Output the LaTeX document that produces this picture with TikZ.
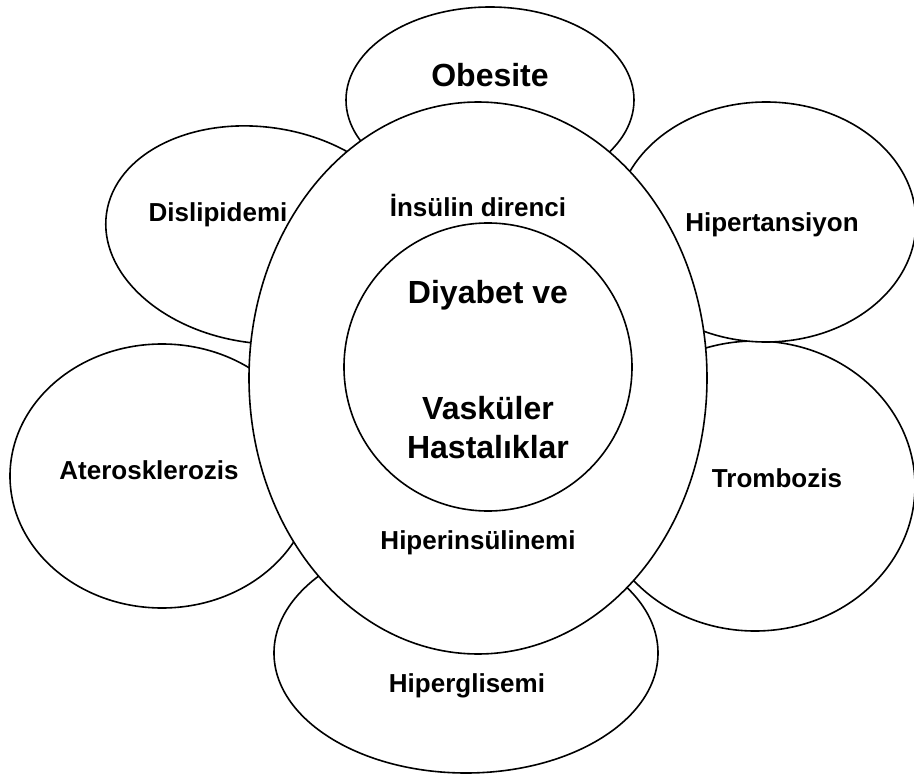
\documentclass[tikz,border=0pt]{standalone}
\usepackage{fontspec}
\setmainfont{Liberation Sans}
\begin{document}
\begin{tikzpicture}[x=1pt,y=-1pt,
  petal/.style={draw=black,fill=white,line width=1.6pt},
  lbl/.style={font=\fontsize{26}{30}\selectfont\bfseries,inner sep=0pt,anchor=center},
  biglbl/.style={font=\fontsize{32}{39}\selectfont\bfseries,inner sep=0pt,anchor=center,align=center}]
\clip (0,0) rectangle (914,776);
\fill[white] (0,0) rectangle (914,776);
% petals
\path[petal] (466,653) ellipse [x radius=192pt,y radius=120pt];
\path[petal] (162,476) ellipse [x radius=152pt,y radius=132pt];
\path[petal] (755,486) ellipse [x radius=160pt,y radius=145pt];
\path[petal,rotate around={-8:(260,235)}] (260,235) ellipse [x radius=155pt,y radius=108pt];
\path[petal] (766,222) ellipse [x radius=150pt,y radius=120pt];
\path[petal] (490,100) ellipse [x radius=144pt,y radius=93pt];
% central ellipse and circle
\path[petal] (478,378) ellipse [x radius=229pt,y radius=276pt];
\path[petal] (488,367) ellipse [x radius=144pt,y radius=144pt];
% labels
\node[biglbl] (obesite) at (490,75) {Obesite};
\node[lbl] (dislip) at (218,215) {Dislipidemi};
\node[lbl] (hipert) at (772,225) {Hipertansiyon};
\node[lbl] (ateros) at (149,470) {Aterosklerozis};
\node[lbl] (tromb) at (777,478) {Trombozis};
\node[lbl] (hipergl) at (467,686) {Hiperglisemi};
\node[lbl] (insulin) at (478,205) {İnsülin direnci};
\node[lbl] (hiperins) at (478,543) {Hiperinsülinemi};
\node[biglbl] (diyabet) at (488,295) {Diyabet ve};
\node[biglbl] (vaskuler) at (488,428) {Vasküler\\[0pt]Hastalıklar};
\end{tikzpicture}
\end{document}
